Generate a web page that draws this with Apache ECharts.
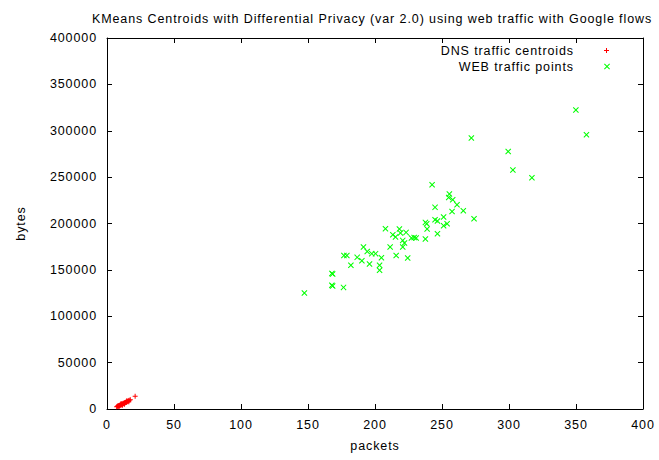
<!DOCTYPE html>
<html>
<head>
<meta charset="utf-8">
<script src="https://cdn.jsdelivr.net/npm/echarts@6/dist/echarts.min.js"></script>
<style>html,body{margin:0;padding:0;background:#fff}#c{width:659px;height:460px}#c text{letter-spacing:0.9px}</style>
</head>
<body>
<div id="c"></div>
<script>
var titleText = 'KMeans Centroids with Differential Privacy (var 2.0) using web traffic with Google flows';
var xName = 'packets';
var yName = 'bytes';
var dnsName = 'DNS traffic centroids';
var webName = 'WEB traffic points';
var xTicks = [0, 50, 100, 150, 200, 250, 300, 350, 400];
var yTicks = [0, 50000, 100000, 150000, 200000, 250000, 300000, 350000, 400000];

// DNS centroids [packets, bytes]
var dnsPoints = [
  [7.2,2300],[7.8,3100],[8.1,2700],[8.5,3600],[8.9,3200],[9.3,4100],[9.6,3800],
  [10.0,4600],[10.2,4200],[10.7,5100],[11.0,4700],[11.4,5600],[11.8,5200],
  [12.1,6200],[12.5,5800],[12.9,6700],[13.3,6300],[13.8,7300],[14.2,6900],
  [14.6,7800],[15.1,8300],[15.5,7900],[16.0,8800],[16.6,9400],[17.4,9900],
  [9.0,2500],[11.5,4000],[13.0,5200],[10.5,6000],[14.8,9000],[16.3,7700],
  [21.0,13800]
];

// WEB traffic points [packets, bytes]
var webPoints = [
  [147.3,125100],[167.8,133500],[168.4,132600],[167.8,146200],[168.4,145500],
  [176.5,131100],[176.8,165600],[179.0,165600],[182.0,154900],[186.7,163500],
  [191.4,174700],[190.2,159900],[194.2,169900],[195.9,156400],[197.6,167500],
  [200.4,167500],[203.4,154900],[203.4,149500],[204.8,163100],[207.8,194400],
  [211.3,174700],[215.8,165600],[213.3,187900],[215.3,185500],[218.2,194100],
  [219.0,189800],[220.7,181800],[220.7,174700],[223.2,190400],[222.0,179000],
  [224.4,162800],[227.2,184400],[229.2,185000],[230.7,184400],[237.6,201200],
  [237.6,183300],[238.6,199800],[238.9,194100],[242.6,241800],[244.8,217400],
  [244.8,204100],[246.6,202700],[246.6,189000],[251.2,207000],[251.2,197600],
  [253.8,199800],[255.5,231800],[255.0,228100],[258.0,225600],[257.5,213000],
  [261.2,220300],[265.9,213800],[271.9,292100],[273.9,205200],[299.4,277700],
  [302.9,257700],[317.1,249400],[349.9,322300],[357.8,295700]
];

var plusPath = 'path://M4,0H6V4H10V6H6V10H4V6H0V4H4Z';
var crossPath = 'path://M0,1.2L1.2,0L5,3.8L8.8,0L10,1.2L6.2,5L10,8.8L8.8,10L5,6.2L1.2,10L0,8.8L3.8,5Z';
var FONT = 'Liberation Sans';
var FS = 12.5;

var chart = echarts.init(document.getElementById('c'), null, {renderer: 'svg'});
var axisLineStyle = {color: '#000', width: 1};
function baseX(show) {
  return {
    type: 'value', min: xTicks[0], max: xTicks[xTicks.length - 1], interval: xTicks[1] - xTicks[0],
    position: show ? 'bottom' : 'top',
    name: show ? xName : '', nameLocation: 'middle', nameGap: 30,
    nameTextStyle: {fontFamily: FONT, fontSize: FS, color: '#000'},
    axisLine: {show: true, onZero: false, lineStyle: axisLineStyle},
    axisTick: {show: true, inside: true, length: 5, lineStyle: axisLineStyle},
    axisLabel: {show: show, margin: 9, fontFamily: FONT, fontSize: FS, color: '#000',
      formatter: function (v) { return String(v); }},
    splitLine: {show: false}
  };
}
function baseY(show) {
  return {
    type: 'value', min: yTicks[0], max: yTicks[yTicks.length - 1], interval: yTicks[1] - yTicks[0],
    position: show ? 'left' : 'right',
    name: show ? yName : '', nameLocation: 'middle', nameGap: 80, nameRotate: 90,
    nameTextStyle: {fontFamily: FONT, fontSize: FS, color: '#000'},
    axisLine: {show: true, onZero: false, lineStyle: axisLineStyle},
    axisTick: {show: true, inside: true, length: 5, lineStyle: axisLineStyle},
    axisLabel: {show: show, margin: 10, fontFamily: FONT, fontSize: FS, color: '#000',
      formatter: function (v) { return String(v); }},
    splitLine: {show: false}
  };
}

chart.setOption({
  animation: false,
  backgroundColor: '#fff',
  title: {
    text: titleText, left: 367, top: 7, textAlign: 'center',
    textStyle: {fontFamily: FONT, fontSize: FS, fontWeight: 'normal', color: '#000'}
  },
  grid: {left: 107, right: 16, top: 38, bottom: 51, containLabel: false},
  xAxis: [baseX(true), baseX(false)],
  yAxis: [baseY(true), baseY(false)],
  legend: [
    {
      data: [{name: dnsName, icon: plusPath}], right: 50, top: 44, align: 'right',
      itemWidth: 5, itemHeight: 5, padding: 0,
      textStyle: {fontFamily: FONT, fontSize: FS, color: '#000', padding: [0, 25, 0, 0]}
    },
    {
      data: [{name: webName, icon: crossPath}], right: 49, top: 60, align: 'right',
      itemWidth: 6, itemHeight: 6, padding: 0,
      textStyle: {fontFamily: FONT, fontSize: FS, color: '#000', padding: [0, 25, 0, 0]}
    }
  ],
  series: [
    {
      name: dnsName, type: 'scatter', data: dnsPoints, symbol: plusPath, symbolSize: 5,
      symbolKeepAspect: true, itemStyle: {color: '#ff0000', opacity: 1}
    },
    {
      name: webName, type: 'scatter', data: webPoints, symbol: crossPath, symbolSize: 6,
      symbolKeepAspect: true, itemStyle: {color: '#00ff00', opacity: 1}
    }
  ]
});
</script>
</body>
</html>
